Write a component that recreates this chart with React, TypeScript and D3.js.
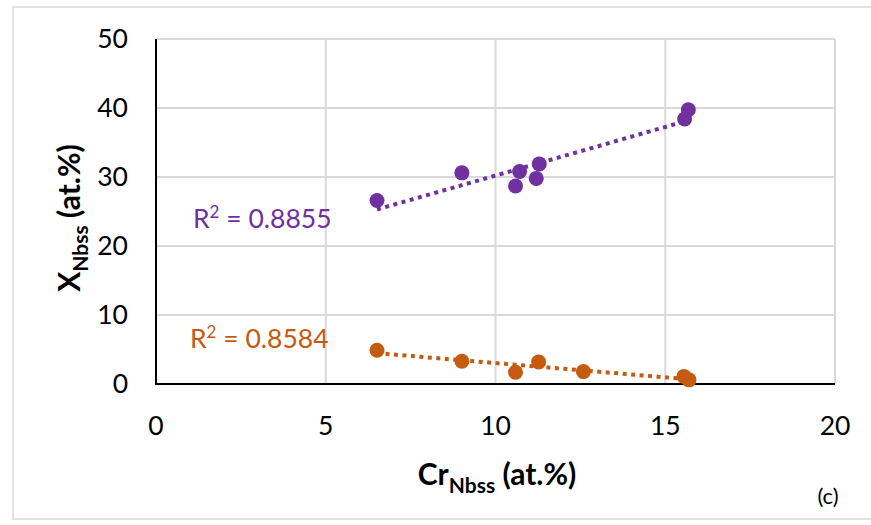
import React from "react";
import * as d3 from "d3";

const xTicks = [0, 5, 10, 15, 20];
const yTicks = [0, 10, 20, 30, 40, 50];

const purpleX = [6.51, 9.01, 10.59, 10.71, 11.2, 11.29, 15.57, 15.68];
const purpleY = [26.6, 30.6, 28.7, 30.8, 29.8, 31.9, 38.4, 39.75];
const orangeX = [6.51, 9.01, 10.59, 11.27, 12.59, 15.55, 15.7];
const orangeY = [4.9, 3.3, 1.7, 3.2, 1.8, 1.1, 0.6];

const purpleR2 = "0.8855";
const orangeR2 = "0.8584";

const PURPLE = "#7030A0";
const ORANGE = "#C55A11";
const GRID = "#d9d9d9";
const FONT = "Lato, 'Open Sans', sans-serif";

function fit(xs: number[], ys: number[]) {
  const mx = d3.mean(xs) as number;
  const my = d3.mean(ys) as number;
  const sxy = d3.sum(xs.map((x, i) => (x - mx) * (ys[i] - my)));
  const sxx = d3.sum(xs.map((x) => (x - mx) * (x - mx)));
  const b = sxy / sxx;
  const a = my - b * mx;
  const [x0, x1] = d3.extent(xs) as [number, number];
  return [
    [x0, a + b * x0],
    [x1, a + b * x1],
  ] as [number, number][];
}

export default function App() {
  const x = d3.scaleLinear().domain([0, 20]).range([156, 835]);
  const y = d3.scaleLinear().domain([0, 50]).range([384, 39]);
  const line = d3
    .line<[number, number]>()
    .x((d) => x(d[0]))
    .y((d) => y(d[1]));

  const series = [
    { xs: purpleX, ys: purpleY, color: PURPLE },
    { xs: orangeX, ys: orangeY, color: ORANGE },
  ];

  return (
    <svg
      width={871}
      height={525}
      style={{ position: "absolute", left: 0, top: 0, background: "#fff" }}
      fontFamily={FONT}
    >
      <rect x={0} y={0} width={871} height={525} fill="#fff" />
      <rect x={13} y={7} width={900} height={512} fill="none" stroke={GRID} strokeWidth={1.5} />
      {/* gridlines */}
      {yTicks.map((t) => (
        <line key={"gy" + t} x1={x(0)} x2={x(20)} y1={y(t)} y2={y(t)} stroke={GRID} strokeWidth={2} />
      ))}
      {xTicks.map((t) => (
        <line key={"gx" + t} x1={x(t)} x2={x(t)} y1={y(0)} y2={y(50)} stroke={GRID} strokeWidth={2} />
      ))}
      {/* axes */}
      <line x1={x(0)} x2={x(0)} y1={y(0) + 1} y2={y(50)} stroke="#000" strokeWidth={2} />
      <line x1={x(0) - 1} x2={x(20)} y1={y(0)} y2={y(0)} stroke="#000" strokeWidth={2} />
      {/* tick labels */}
      {yTicks.map((t) => (
        <text key={"ty" + t} x={128} y={y(t)} dy="0.35em" textAnchor="end" fontSize={26.5} fill="#000">
          {t}
        </text>
      ))}
      {xTicks.map((t) => (
        <text key={"tx" + t} x={x(t)} y={435} textAnchor="middle" fontSize={26.5} fill="#000">
          {t}
        </text>
      ))}
      {/* trendlines */}
      {series.map((s, i) => (
        <path
          key={"tl" + i}
          d={line(fit(s.xs, s.ys)) || ""}
          fill="none"
          stroke={s.color}
          strokeWidth={4}
          strokeDasharray="4 4.5"
        />
      ))}
      {/* points */}
      {series.map((s, i) =>
        s.xs.map((v, j) => (
          <circle key={"p" + i + "-" + j} cx={x(v)} cy={y(s.ys[j])} r={7.5} fill={s.color} />
        ))
      )}
      {/* R2 labels */}
      <text x={193} y={228} fontSize={26.5} fill={PURPLE}>
        R<tspan fontSize={17} dy={-10}>2</tspan>
        <tspan dy={10}>{" = " + purpleR2}</tspan>
      </text>
      <text x={190} y={348} fontSize={26.5} fill={ORANGE}>
        R<tspan fontSize={17} dy={-10}>2</tspan>
        <tspan dy={10}>{" = " + orangeR2}</tspan>
      </text>
      {/* axis titles */}
      <text x={497} y={485} textAnchor="middle" fontSize={30} fontWeight="bold" fill="#000">
        Cr
        <tspan fontSize={21} dy={8}>Nbss</tspan>
        <tspan dy={-8}> (at.%)</tspan>
      </text>
      <text
        transform="translate(80,218) rotate(-90)"
        textAnchor="middle"
        fontSize={30}
        fontWeight="bold"
        fill="#000"
      >
        X
        <tspan fontSize={21} dy={8}>Nbss</tspan>
        <tspan dy={-8}> (at.%)</tspan>
      </text>
      <text x={828} y={504} textAnchor="middle" fontSize={22} fill="#000">
        (c)
      </text>
    </svg>
  );
}
